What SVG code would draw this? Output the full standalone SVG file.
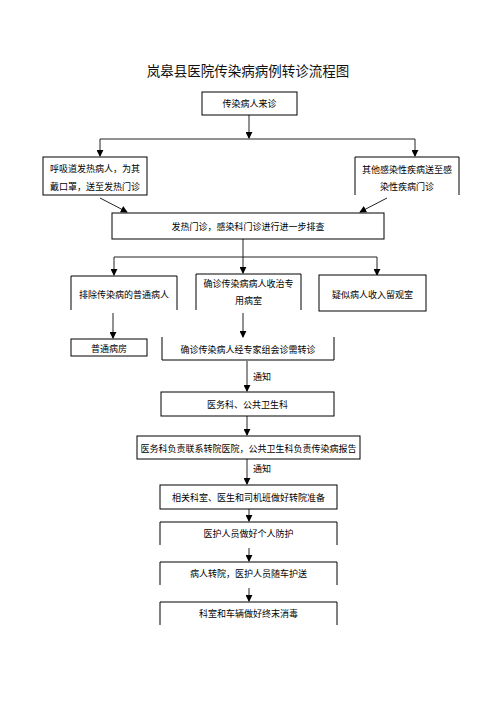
<svg xmlns="http://www.w3.org/2000/svg" width="496" height="702" viewBox="0 0 496 702">
<defs>
<style>
.b{fill:#fff;stroke:#000;stroke-width:1}
.o{fill:none;stroke:#000;stroke-width:1}
.t{font-family:"Noto Sans CJK SC","Liberation Sans",sans-serif;font-size:9px;fill:#000;text-anchor:middle;dominant-baseline:central}
.c{fill:none;stroke:#222;stroke-width:1}
</style>
<marker id="ah" viewBox="0 0 8 8" refX="7" refY="4" markerWidth="7" markerHeight="7" markerUnits="userSpaceOnUse" orient="auto">
<path d="M0,0 L8,4 L0,8 Z" fill="#000"/>
</marker>
</defs>
<rect width="496" height="702" fill="#fff"/>
<text x="248" y="70" style="font-family:'Noto Sans CJK SC','Liberation Sans',sans-serif;font-size:13.5px;text-anchor:middle;dominant-baseline:central;fill:#111">岚皋县医院传染病病例转诊流程图</text>

<g id="connectors">
<path class="c" d="M249,115 V138" marker-end="url(#ah)"/>
<path class="c" d="M100,139 H415"/>
<path class="c" d="M100,139 V156" marker-end="url(#ah)"/>
<path class="c" d="M415,139 V156" marker-end="url(#ah)"/>
<path class="c" d="M100,198 L127,212" marker-end="url(#ah)"/>
<path class="c" d="M387,198 L360,212" marker-end="url(#ah)"/>
<path class="c" d="M243,239 V257"/>
<path class="c" d="M114,257 H377"/>
<path class="c" d="M114,257 V275" marker-end="url(#ah)"/>
<path class="c" d="M243,257 V273" marker-end="url(#ah)"/>
<path class="c" d="M377,257 V275" marker-end="url(#ah)"/>
<path class="c" d="M113,313 V338" marker-end="url(#ah)"/>
<path class="c" d="M243,313 V337" marker-end="url(#ah)"/>
<path class="c" d="M247,361 V391" marker-end="url(#ah)"/>
<path class="c" d="M247,416 V435" marker-end="url(#ah)"/>
<path class="c" d="M247,459 V484" marker-end="url(#ah)"/>
<path class="c" d="M249,509 V521" marker-end="url(#ah)"/>
<path class="c" d="M249,548 V561" marker-end="url(#ah)"/>
<path class="c" d="M249,588 V601" marker-end="url(#ah)"/>
<text class="t" x="253" y="376" text-anchor="start" style="text-anchor:start">通知</text>
<text class="t" x="253" y="468" style="text-anchor:start">通知</text>
</g>

<g id="n1"><rect class="b" x="202" y="92" width="95" height="23"/><text class="t" x="249.5" y="103.5">传染病人来诊</text></g>
<g id="n2"><rect class="b" x="43" y="157" width="104" height="38"/><text class="t" x="95" y="168">呼吸道发热病人，为其</text><text class="t" x="95" y="186">戴口罩，送至发热门诊</text></g>
<g id="n3"><path class="o" d="M355,195 V157 H459 V195"/><text class="t" x="407" y="169">其他感染性疾病送至感</text><text class="t" x="407" y="186">染性疾病门诊</text></g>
<g id="n4"><rect class="b" x="112" y="213" width="272" height="26"/><text class="t" x="248" y="226">发热门诊，感染科门诊进行进一步排查</text></g>
<g id="n5"><path class="o" d="M71,310 V276 H177 V310"/><text class="t" x="124" y="294">排除传染病的普通病人</text></g>
<g id="n6"><path class="o" d="M196,310 V274 H301 V310"/><text class="t" x="248.5" y="283">确诊传染病病人收治专</text><text class="t" x="248.5" y="300">用病室</text></g>
<g id="n7"><rect class="b" x="319" y="275" width="107" height="36"/><text class="t" x="372.5" y="294">疑似病人收入留观室</text></g>
<g id="n8"><rect class="b" x="71" y="339" width="76" height="17"/><text class="t" x="109" y="348">普通病房</text></g>
<g id="n9"><path class="o" d="M162,337 V360 H334 V337"/><text class="t" x="248" y="349">确诊传染病人经专家组会诊需转诊</text></g>
<g id="n10"><rect class="b" x="161" y="392" width="173" height="24"/><text class="t" x="247.5" y="404">医务科、公共卫生科</text></g>
<g id="n11"><rect class="b" x="137" y="436" width="223" height="23"/><text class="t" x="248.5" y="448">医务科负责联系转院医院，公共卫生科负责传染病报告</text></g>
<g id="n12"><rect class="b" x="160" y="485" width="177" height="24"/><text class="t" x="248.5" y="497">相关科室、医生和司机班做好转院准备</text></g>
<g id="n13"><path class="o" d="M160,545 V522 H337 V545"/><text class="t" x="248.5" y="533">医护人员做好个人防护</text></g>
<g id="n14"><path class="o" d="M160,585 V562 H337 V585"/><text class="t" x="248.5" y="573">病人转院，医护人员随车护送</text></g>
<g id="n15"><path class="o" d="M160,625 V602 H337 V625"/><text class="t" x="248.5" y="613">科室和车辆做好终末消毒</text></g>
</svg>
